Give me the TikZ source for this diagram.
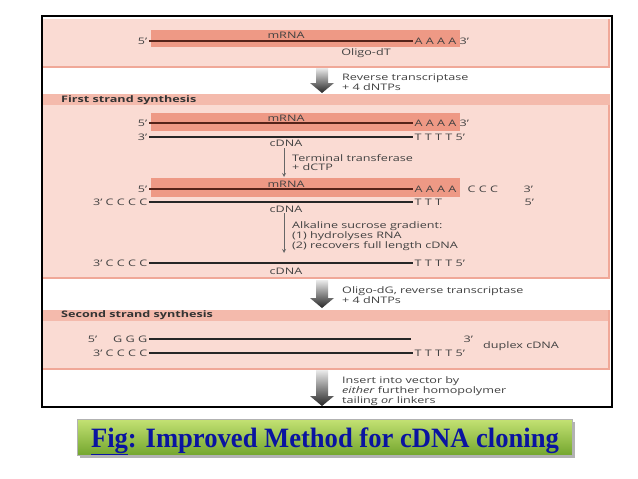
\documentclass[tikz,border=0pt]{standalone}
\usepackage{fontspec}
\usepackage{tikz}
\usetikzlibrary{positioning}
\newfontfamily\diagfont[FakeStretch=1.4]{Open Sans}
\newfontfamily\titlefont[FakeStretch=0.95]{Liberation Serif}
\definecolor{panelpink}{RGB}{250,219,211}
\definecolor{headpink}{RGB}{244,186,172}
\definecolor{barpink}{RGB}{238,153,133}
\definecolor{edgepink}{RGB}{240,168,152}
\definecolor{strandbrown}{RGB}{85,35,25}
\definecolor{txtgray}{RGB}{65,65,65}
\definecolor{titleblue}{RGB}{10,20,160}
\definecolor{greentop}{RGB}{196,226,116}
\definecolor{greenbot}{RGB}{116,166,46}
\tikzset{
	lbl/.style={font=\diagfont\fontsize{9}{8.5}\selectfont, text=txtgray, inner sep=0pt},
	endlbl/.style={lbl, text height=6.4pt, text depth=0pt, inner xsep=1.5pt},
	steptext/.style={lbl, align=left, anchor=north west},
	hdrtext/.style={lbl, font=\diagfont\bfseries\fontsize{9}{8.5}\selectfont, text=black!80, anchor=west},
	strand/.style={line width=1.1pt, black!85},
	rnastrand/.style={line width=1.3pt, strandbrown},
	thinarrow/.style={-stealth, line width=0.8pt, black!60},
	bigarrow/.style={top color=black!8, bottom color=black!85},
}

\begin{document}
\begin{tikzpicture}[x=1pt, y=-1pt]
	\fill[white] (0,0) rectangle (638,479);
	\useasboundingbox (0,0) rectangle (638,479);

	\fill[panelpink] (43,19) rectangle (610,67);
	\draw[edgepink, line width=1.5pt] (43,67) -- (609.2,67) -- (609.2,19);
	\fill[headpink] (43,94) rectangle (610,105);
	\fill[panelpink] (43,105) rectangle (610,278);
	\draw[edgepink, line width=1.5pt] (43,278) -- (609.2,278) -- (609.2,105);
	\fill[headpink] (43,310) rectangle (610,321);
	\fill[panelpink] (43,321) rectangle (610,369);
	\draw[edgepink, line width=1.5pt] (43,369) -- (609.2,369) -- (609.2,310);

	\fill[barpink] (151,30) rectangle (460,47);
	\fill[barpink] (151,113) rectangle (460,131);
	\fill[barpink] (151,178) rectangle (460,197);

	\node[lbl] (mA) at (286,35) {mRNA};
	\node[endlbl, anchor=east] (a5) at (149,41) {5’};
	\node[endlbl, anchor=west] (aA) at (413,41) {A A A A 3’};
	\draw[rnastrand] (a5) -- (aA);
	\node[lbl] (odt) at (366,53) {Oligo-dT};

	\shade[bigarrow] (316,68) -- (328,68) -- (328,83) -- (334,83) -- (322,93) -- (310,83) -- (316,83) -- cycle;
	\node[steptext] (rt1) at (342,73.5) {Reverse transcriptase\\+ 4 dNTPs};

	\node[hdrtext] (h1) at (61,100) {First strand synthesis};

	\node[lbl] (mB) at (286,118) {mRNA};
	\node[endlbl, anchor=east] (b5) at (149,123) {5’};
	\node[endlbl, anchor=west] (bA) at (413,123) {A A A A 3’};
	\draw[rnastrand] (b5) -- (bA);
	\node[endlbl, anchor=east] (b3) at (149,137) {3’};
	\node[endlbl, anchor=west] (bT) at (413,137) {T T T T 5’};
	\draw[strand] (b3) -- (bT);
	\node[lbl] (cdB) at (286,143.5) {cDNA};

	\coordinate (t1a) at (284,148);
	\coordinate (t1b) at (284,177);
	\draw[thinarrow] (t1a) -- (t1b);
	\node[steptext] (tt) at (292,154.5) {Terminal transferase\\+ dCTP};

	\node[lbl] (mC) at (286,184) {mRNA};
	\node[endlbl, anchor=east] (c5) at (149,189) {5’};
	\node[endlbl, anchor=west] (cA) at (413,189) {A A A A};
	\draw[rnastrand] (c5) -- (cA);
	\node[endlbl, anchor=west] (cC) at (466,189) {C C C};
	\node[endlbl, anchor=west] (c3) at (522,189) {3’};
	\node[endlbl, anchor=east] (cG) at (149,202) {3’ C C C C};
	\node[endlbl, anchor=west] (cT) at (413,202) {T T T};
	\draw[strand] (cG) -- (cT);
	\node[endlbl, anchor=west] (c5b) at (523,202) {5’};
	\node[lbl] (cdC) at (286,209) {cDNA};

	\coordinate (t2a) at (284,213);
	\coordinate (t2b) at (284,253);
	\draw[thinarrow] (t2a) -- (t2b);
	\node[steptext] (asg) at (292,221) {Alkaline sucrose gradient:\\(1) hydrolyses RNA\\(2) recovers full length cDNA};

	\node[endlbl, anchor=east] (dG) at (149,263) {3’ C C C C};
	\node[endlbl, anchor=west] (dT) at (413,263) {T T T T 5’};
	\draw[strand] (dG) -- (dT);
	\node[lbl] (cdD) at (286,271.5) {cDNA};

	\shade[bigarrow] (316,280) -- (328,280) -- (328,298) -- (334,298) -- (322,308) -- (310,298) -- (316,298) -- cycle;
	\node[steptext] (rt2) at (342,286) {Oligo-dG, reverse transcriptase\\+ 4 dNTPs};

	\node[hdrtext] (h2) at (61,315) {Second strand synthesis};

	\node[endlbl, anchor=east] (e5) at (149,339) {5’\hspace{16pt}G G G};
	\coordinate (eR) at (411,339);
	\draw[strand] (e5) -- (eR);
	\node[endlbl, anchor=west] (e3) at (462,339) {3’};
	\node[endlbl, anchor=east] (fG) at (149,353) {3’ C C C C};
	\node[endlbl, anchor=west] (fT) at (413,353) {T T T T 5’};
	\draw[strand] (fG) -- (fT);
	\node[lbl, anchor=west] (dup) at (483,346) {duplex cDNA};

	\shade[bigarrow] (316,370) -- (328,370) -- (328,396) -- (334,396) -- (322,406) -- (310,396) -- (316,396) -- cycle;
	\node[steptext] (ins) at (342,376) {Insert into vector by\\\textit{either} further homopolymer\\tailing \textit{or} linkers};

	\draw[line width=1.8pt] (42,16) rectangle (612,407);

	\fill[black!30] (80,422) rectangle (575,458);
	\shade[top color=greentop, bottom color=greenbot, draw=black!30] (77.5,419) rectangle (572,455);
	\node[font=\titlefont\bfseries\fontsize{28}{30}\selectfont, text=titleblue, inner sep=0pt, anchor=base] (ttl) at (325,447) {\underline{Fig}: Improved Method for cDNA cloning};
\end{tikzpicture}
\end{document}
